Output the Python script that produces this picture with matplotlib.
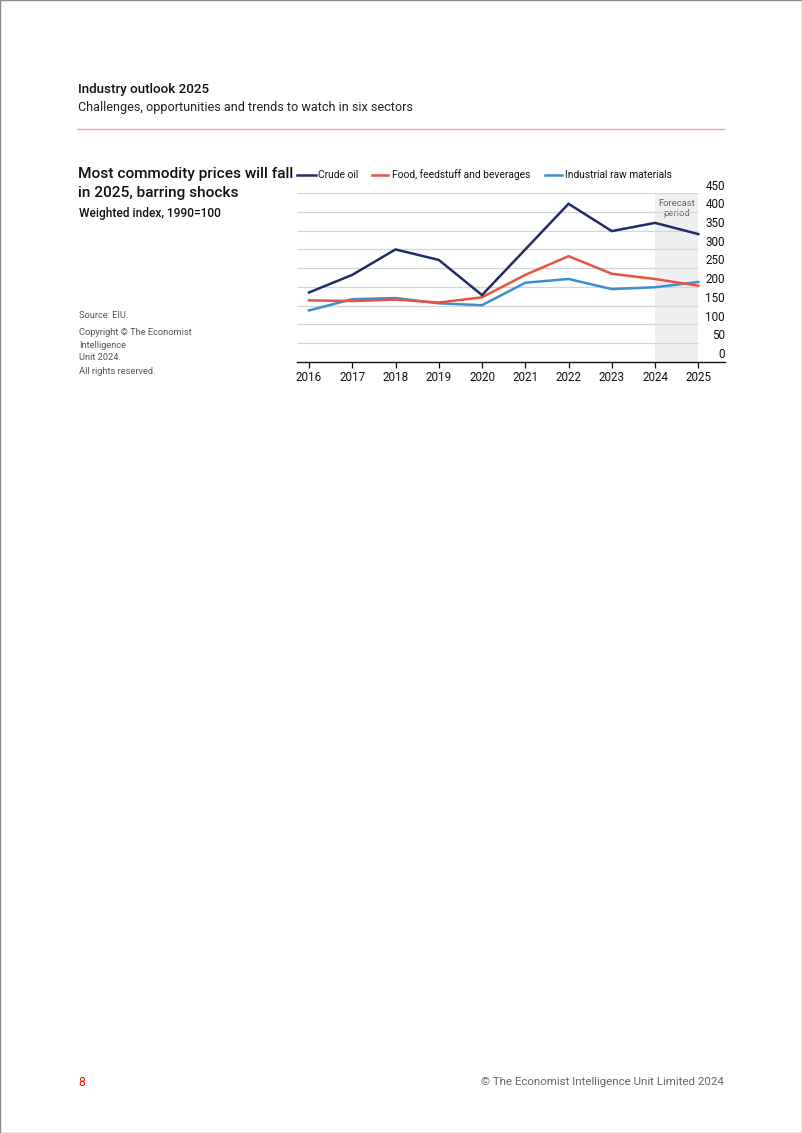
import matplotlib
matplotlib.use("Agg")
import matplotlib.pyplot as plt
from matplotlib.patches import Rectangle
from matplotlib.lines import Line2D
import matplotlib.transforms as mtransforms

plt.rcParams['font.family'] = ['Roboto', 'DejaVu Sans']

years = [2016, 2017, 2018, 2019, 2020, 2021, 2022, 2023, 2024, 2025]
crude_oil = [185, 232, 300, 272, 178, 300, 422, 349, 371, 341]
food = [164, 162, 166, 158, 172, 232, 282, 235, 221, 203]
industrial = [137, 167, 170, 156, 151, 211, 221, 194, 199, 213]
y_ticks = [0, 50, 100, 150, 200, 250, 300, 350, 400, 450]
series_names = ["Crude oil", "Food, feedstuff and beverages", "Industrial raw materials"]
series_colors = ["#1f2d6b", "#e8533f", "#3b8fd0"]
forecast_start, forecast_end = 2024, 2025

W, H = 802, 1133
fig = plt.figure(figsize=(W / 100, H / 100), dpi=100)

def fx(px):
    return px / W

def fy(py):
    return 1 - py / H

# page border
fig.patches.append(Rectangle((0, 0), 1, 1, transform=fig.transFigure, fill=False,
                             edgecolor="#8a8a8a", linewidth=1.0))

# header
fig.text(fx(78), fy(89), "Industry outlook 2025", fontsize=9.6, fontweight="medium",
         color="#111111", va="center", ha="left")
fig.text(fx(78), fy(107), "Challenges, opportunities and trends to watch in six sectors",
         fontsize=9.1, color="#222222", va="center", ha="left")
fig.add_artist(Line2D([fx(77), fx(724)], [fy(129), fy(129)], transform=fig.transFigure,
                      color="#f2a3a3", linewidth=1.0))

# chart title block
fig.text(fx(78), fy(174), "Most commodity prices will fall", fontsize=11.1, fontweight="medium",
         color="#111111", va="center", ha="left")
fig.text(fx(78), fy(193), "in 2025, barring shocks", fontsize=11.1, fontweight="medium",
         color="#111111", va="center", ha="left")
fig.text(fx(79), fy(213), "Weighted index, 1990=100", fontsize=8.6, fontweight="medium",
         color="#111111", va="center", ha="left")

# source block
src_lines = ["Source: EIU.", "Copyright \u00a9 The Economist", "Intelligence", "Unit 2024.",
             "All rights reserved."]
src_y = [316, 332, 345, 358, 371]
for t, yy in zip(src_lines, src_y):
    fig.text(fx(79), fy(yy), t, fontsize=6.7, color="#555555", va="center", ha="left")

# axes
ax = fig.add_axes([fx(297), fy(361.7), fx(725) - fx(297), fy(193.3) - fy(361.7)])
x0 = 2016 - (309 - 297) / 43.26
x1 = 2025 + (725 - 698.3) / 43.26
ax.set_xlim(x0, x1)
ax.set_ylim(0, 450)
for s in ["top", "right", "left"]:
    ax.spines[s].set_visible(False)
ax.spines["bottom"].set_color("#111111")
ax.spines["bottom"].set_linewidth(1.0)
ax.set_yticks([])
ax.set_xticks(years)
ax.set_xticklabels([str(y) for y in years], fontsize=8.4, color="#111111")
ax.tick_params(axis="x", length=4, width=0.9, color="#111111", pad=2.5)

# forecast shading
ax.axvspan(forecast_start, forecast_end, ymin=0, ymax=1, color="#eef0f0", zorder=0, lw=0)
ax.text((forecast_start + forecast_end) / 2, 410, "Forecast\nperiod", fontsize=6.8,
        color="#666666", ha="center", va="center", linespacing=1.15, zorder=1)

# gridlines
for v in y_ticks[1:]:
    ax.plot([x0, forecast_end], [v, v], color="#d4d4d4", linewidth=0.9, zorder=1,
            solid_capstyle="butt")

# y labels on the right, sitting above gridlines
trans = mtransforms.blended_transform_factory(ax.transAxes, ax.transData)
for v in y_ticks:
    ax.text(1.0, v + 2, str(v), transform=trans, ha="right", va="bottom", fontsize=8.4,
            color="#111111")

# lines
for vals, c in zip([crude_oil, food, industrial][::-1], series_colors[::-1]):
    ax.plot(years, vals, color=c, linewidth=1.8, zorder=3, solid_joinstyle="miter",
            clip_on=False)

# legend (manual)
leg_items = [(297, 316, 318), (372, 388, 392), (545, 562, 565)]
for (lx0, lx1, tx), name, c in zip(leg_items, series_names, series_colors):
    fig.add_artist(Line2D([fx(lx0), fx(lx1)], [fy(175), fy(175)], transform=fig.transFigure,
                          color=c, linewidth=1.8))
    fig.text(fx(tx), fy(175), name, fontsize=7.4, color="#111111", va="center", ha="left")

# footer
fig.text(fx(78), fy(1082), "8", fontsize=8.8, color="#e3120b", va="center", ha="left")
fig.text(fx(724), fy(1082), "\u00a9 The Economist Intelligence Unit Limited 2024", fontsize=8.25,
         color="#666666", va="center", ha="right")

fig.savefig("out.png", dpi=100)
